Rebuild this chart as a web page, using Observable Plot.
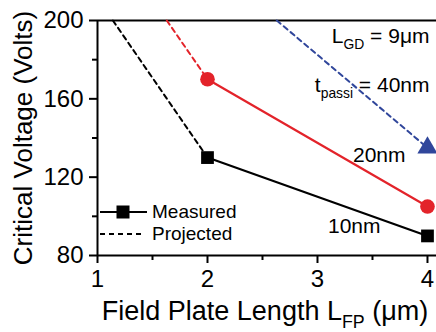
<!DOCTYPE html>
<html><head><meta charset="utf-8">
<script src="https://cdn.jsdelivr.net/npm/d3@7"></script>
<script src="https://cdn.jsdelivr.net/npm/@observablehq/plot@0.6"></script>
<style>body{margin:0;background:#fff}</style>
</head><body><div id="chart"></div>
<script>
// Field plate length (µm) for measured points
const fieldPlateLength = [2, 4];
// Measured critical voltage (V)
const measured10nm = [130, 90];
const measured20nm = [170, 105];
// Projected (dashed) segments, ending at the top of the axis
const projected10nmX = [1.14, 2];
const projected10nmY = [200, 130];
const projected20nmX = [1.63, 2];
const projected20nmY = [200, 170];
const projected40nmX = [2.63, 4];
const projected40nmY = [200, 135];
// Ticks
const yTicks = [80, 120, 160, 200];
const yMinorTicks = [100, 140, 180];
const xTicks = [1, 2, 3, 4];
const xMinorTicks = [1.5, 2.5, 3.5];
// Text
const yLabel = "Critical Voltage (Volts)";
const xLabel = "Field Plate Length L_{FP} (μm)";
const noteLgd = "L_{GD} = 9μm";
const noteTpassi = "t_{passi} = 40nm";
const label20 = "20nm";
const label10 = "10nm";
const legendLabels = ["Measured", "Projected"];

const RED = "#e3232a", BLUE = "#30469b", BLACK = "#000";

const plot = Plot.plot({
  width: 436, height: 332,
  marginLeft: 97, marginRight: 0, marginTop: 20, marginBottom: 77,
  style: {fontFamily: "'Liberation Sans', Arial, sans-serif", fontSize: "24px", background: "#fff", color: "#000", overflow: "visible"},
  x: {domain: [1, 4.082]},
  y: {domain: [80, 200]},
  marks: [
    Plot.axisY(yTicks, {tickSize: 8, tickPadding: 6, label: null, strokeWidth: 2}),
    Plot.axisY(yMinorTicks, {tickSize: 5, text: null, label: null, strokeWidth: 2}),
    Plot.axisX(xTicks, {tickSize: 8, tickPadding: 6, label: null, strokeWidth: 2}),
    Plot.axisX(xMinorTicks, {tickSize: 5, text: null, label: null, strokeWidth: 2}),
    Plot.ruleX([xTicks[0]], {strokeWidth: 2}),
    Plot.ruleY([yTicks[0], yTicks[yTicks.length - 1]], {strokeWidth: 2}),
    // projected
    Plot.line(projected10nmY, {x: projected10nmX, y: projected10nmY, stroke: BLACK, strokeWidth: 2, strokeDasharray: "5,4"}),
    Plot.line(projected20nmY, {x: projected20nmX, y: projected20nmY, stroke: RED, strokeWidth: 2, strokeDasharray: "5,4"}),
    Plot.line(projected40nmY, {x: projected40nmX, y: projected40nmY, stroke: BLUE, strokeWidth: 2, strokeDasharray: "5,4"}),
    // measured
    Plot.line(measured10nm, {x: fieldPlateLength, y: measured10nm, stroke: BLACK, strokeWidth: 2.2}),
    Plot.line(measured20nm, {x: fieldPlateLength, y: measured20nm, stroke: RED, strokeWidth: 2.2}),
    Plot.dot(measured10nm, {x: fieldPlateLength, y: measured10nm, symbol: "square", r: 7.2, fill: BLACK}),
    Plot.dot(measured20nm, {x: fieldPlateLength, y: measured20nm, symbol: "circle", r: 7.3, fill: RED}),
    Plot.dot([projected40nmY[1]], {x: [projected40nmX[1]], y: [projected40nmY[1]], symbol: "triangle", r: 7.5, fill: BLUE}),
    // annotations
    Plot.text([label20], {x: [fieldPlateLength[1]], y: [measured20nm[1]], textAnchor: "end", lineAnchor: "bottom", dx: -22, dy: -45, fontSize: 21}),
    Plot.text([label10], {x: [fieldPlateLength[1]], y: [measured10nm[1]], textAnchor: "end", lineAnchor: "bottom", dx: -47, dy: -3, fontSize: 21}),
    Plot.text([noteLgd], {frameAnchor: "top-right", textAnchor: "end", lineAnchor: "bottom", dx: -7, dy: 22, fontSize: 21}),
    Plot.text([noteTpassi], {frameAnchor: "top-right", textAnchor: "end", lineAnchor: "bottom", dx: -7, dy: 71, fontSize: 21}),
    // axis titles
    Plot.text([yLabel], {frameAnchor: "left", rotate: -90, dx: -66, lineAnchor: "bottom", textAnchor: "middle", fontSize: 26}),
    Plot.text([xLabel], {frameAnchor: "bottom", dy: 64, dx: -2, lineAnchor: "bottom", textAnchor: "middle", fontSize: 27})
  ]
});

document.getElementById("chart").appendChild(plot);

// subscripts
plot.querySelectorAll("text").forEach(t => {
  const s = t.textContent;
  if (!s.includes("_{")) return;
  const fs = parseFloat(getComputedStyle(t).fontSize);
  const subFs = fs * 0.66, shift = fs * 0.33;
  t.textContent = "";
  let shifted = false;
  s.split(/(_\{[^}]*\})/).forEach(part => {
    if (!part) return;
    const ts = document.createElementNS("http://www.w3.org/2000/svg", "tspan");
    if (part.startsWith("_{")) {
      ts.textContent = part.slice(2, -1);
      ts.setAttribute("font-size", subFs);
      ts.setAttribute("dy", shift);
      shifted = true;
    } else {
      ts.textContent = part;
      if (shifted) { ts.setAttribute("dy", -shift); shifted = false; }
    }
    t.appendChild(ts);
  });
});

// legend
const lg = d3.select(plot).append("g")
  .attr("font-size", 19)
  .attr("text-anchor", "start")
  .attr("font-family", "'Liberation Sans', Arial, sans-serif");
lg.append("line").attr("x1", 100).attr("x2", 147).attr("y1", 212).attr("y2", 212).attr("stroke", BLACK).attr("stroke-width", 2.2);
lg.append("rect").attr("x", 123 - 6.5).attr("y", 212 - 6.5).attr("width", 13).attr("height", 13).attr("fill", BLACK);
lg.append("text").attr("x", 152).attr("y", 218).attr("text-anchor", "start").text(legendLabels[0]);
lg.append("line").attr("x1", 100).attr("x2", 145).attr("y1", 234).attr("y2", 234).attr("stroke", BLACK).attr("stroke-width", 2).attr("stroke-dasharray", "5,4");
lg.append("text").attr("x", 152).attr("y", 240).attr("text-anchor", "start").text(legendLabels[1]);
</script>
</body></html>
